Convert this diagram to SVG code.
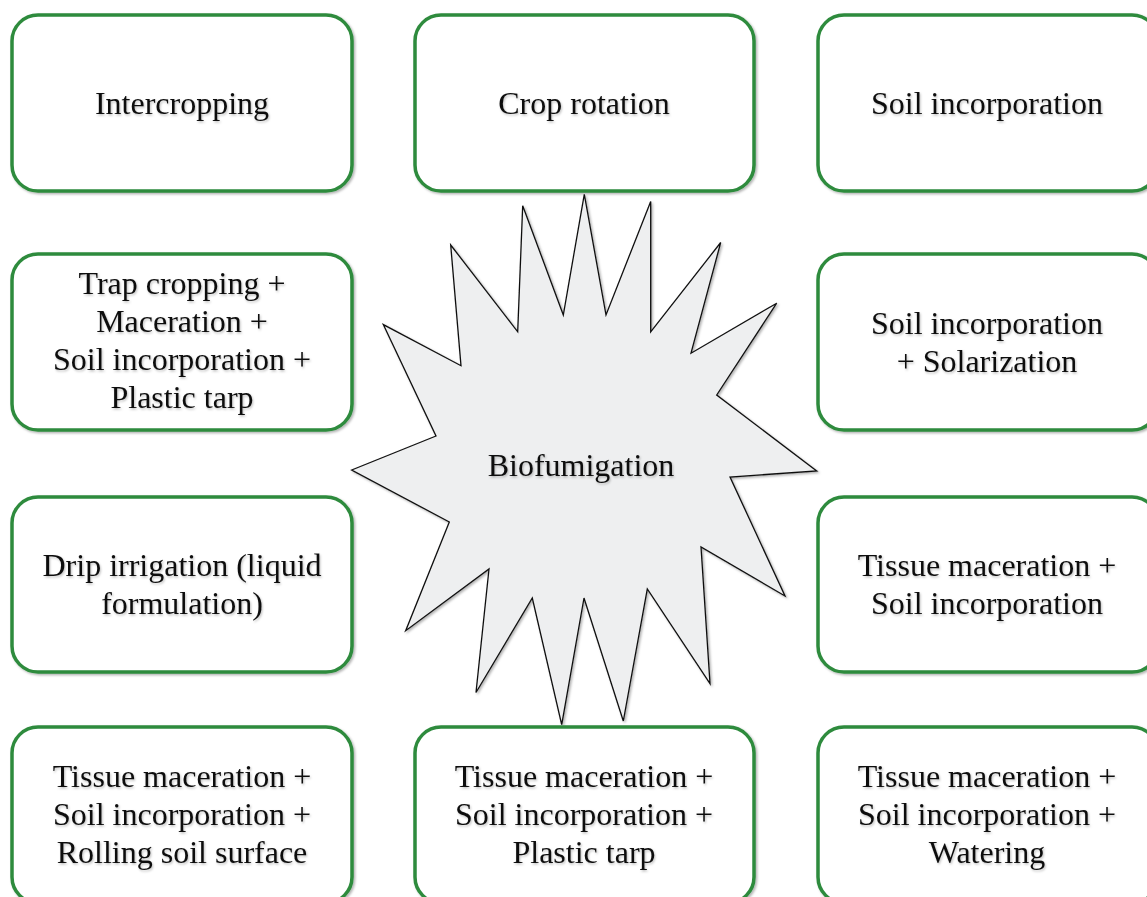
<svg xmlns="http://www.w3.org/2000/svg" width="1147" height="897" viewBox="0 0 1147 897">
<style>
.box{fill:#ffffff;stroke:#2e8b3e;stroke-width:3.5;filter:url(#sh)}
.t{font-family:"Liberation Serif","Times New Roman",serif;font-size:32px;fill:#111;text-anchor:middle;filter:url(#tsh)}
.star{fill:#eeeff0;stroke:#111;stroke-width:1.3;stroke-linejoin:miter;filter:url(#sh)}
</style>
<defs>
<filter id="sh" x="-10%" y="-10%" width="120%" height="120%">
<feDropShadow dx="1.5" dy="1.5" stdDeviation="1.2" flood-color="#000" flood-opacity="0.3"/>
</filter>
<filter id="tsh" x="-5%" y="-20%" width="110%" height="140%">
<feDropShadow dx="1" dy="1.5" stdDeviation="1" flood-color="#000" flood-opacity="0.25"/>
</filter>
</defs>
<rect width="1147" height="897" fill="#ffffff"/>
<g id="connectors"></g>
<g id="biofumigation">
<polygon class="star" points="584.3,194.3 606,315 650.7,201.4 650.7,331.8 720.7,242.5 691,353.2 776.7,303.2 716.7,395 816.7,471 730,477 785,596 701,547 710,683.6 647.3,589 623.3,721 584,598 561.7,724.6 532.3,598 476,692.5 489,569 405.7,630.7 449.3,522 351.7,470 436,436 383.3,324.6 461,365.7 450.7,245 517.7,331.8 522.7,205.7 563.3,315"/>
<text class="t" x="581" y="476">Biofumigation</text>
</g>
<g id="intercropping">
<rect class="box" x="12" y="15" width="340" height="176" rx="26"/>
<text class="t" x="182" y="114">Intercropping</text>
</g>
<g id="crop-rotation">
<rect class="box" x="415" y="15" width="339" height="176" rx="26"/>
<text class="t" x="584" y="114">Crop rotation</text>
</g>
<g id="soil-incorporation">
<rect class="box" x="818" y="15" width="340" height="176" rx="26"/>
<text class="t" x="987" y="114">Soil incorporation</text>
</g>
<g id="trap-cropping">
<rect class="box" x="12" y="254" width="340" height="176" rx="26"/>
<text class="t" x="182" y="294">Trap cropping +</text>
<text class="t" x="182" y="332">Maceration +</text>
<text class="t" x="182" y="370">Soil incorporation +</text>
<text class="t" x="182" y="408">Plastic tarp</text>
</g>
<g id="soil-solarization">
<rect class="box" x="818" y="254" width="340" height="176" rx="26"/>
<text class="t" x="987" y="334">Soil incorporation</text>
<text class="t" x="987" y="372">+ Solarization</text>
</g>
<g id="drip-irrigation">
<rect class="box" x="12" y="497" width="340" height="175" rx="26"/>
<text class="t" x="182" y="576">Drip irrigation (liquid</text>
<text class="t" x="182" y="614">formulation)</text>
</g>
<g id="tissue-soil">
<rect class="box" x="818" y="497" width="340" height="175" rx="26"/>
<text class="t" x="987" y="576">Tissue maceration +</text>
<text class="t" x="987" y="614">Soil incorporation</text>
</g>
<g id="tissue-soil-rolling">
<rect class="box" x="12" y="727" width="340" height="176" rx="26"/>
<text class="t" x="182" y="787">Tissue maceration +</text>
<text class="t" x="182" y="825">Soil incorporation +</text>
<text class="t" x="182" y="863">Rolling soil surface</text>
</g>
<g id="tissue-soil-tarp">
<rect class="box" x="415" y="727" width="339" height="176" rx="26"/>
<text class="t" x="584" y="787">Tissue maceration +</text>
<text class="t" x="584" y="825">Soil incorporation +</text>
<text class="t" x="584" y="863">Plastic tarp</text>
</g>
<g id="tissue-soil-watering">
<rect class="box" x="818" y="727" width="340" height="176" rx="26"/>
<text class="t" x="987" y="787">Tissue maceration +</text>
<text class="t" x="987" y="825">Soil incorporation +</text>
<text class="t" x="987" y="863">Watering</text>
</g>
</svg>
